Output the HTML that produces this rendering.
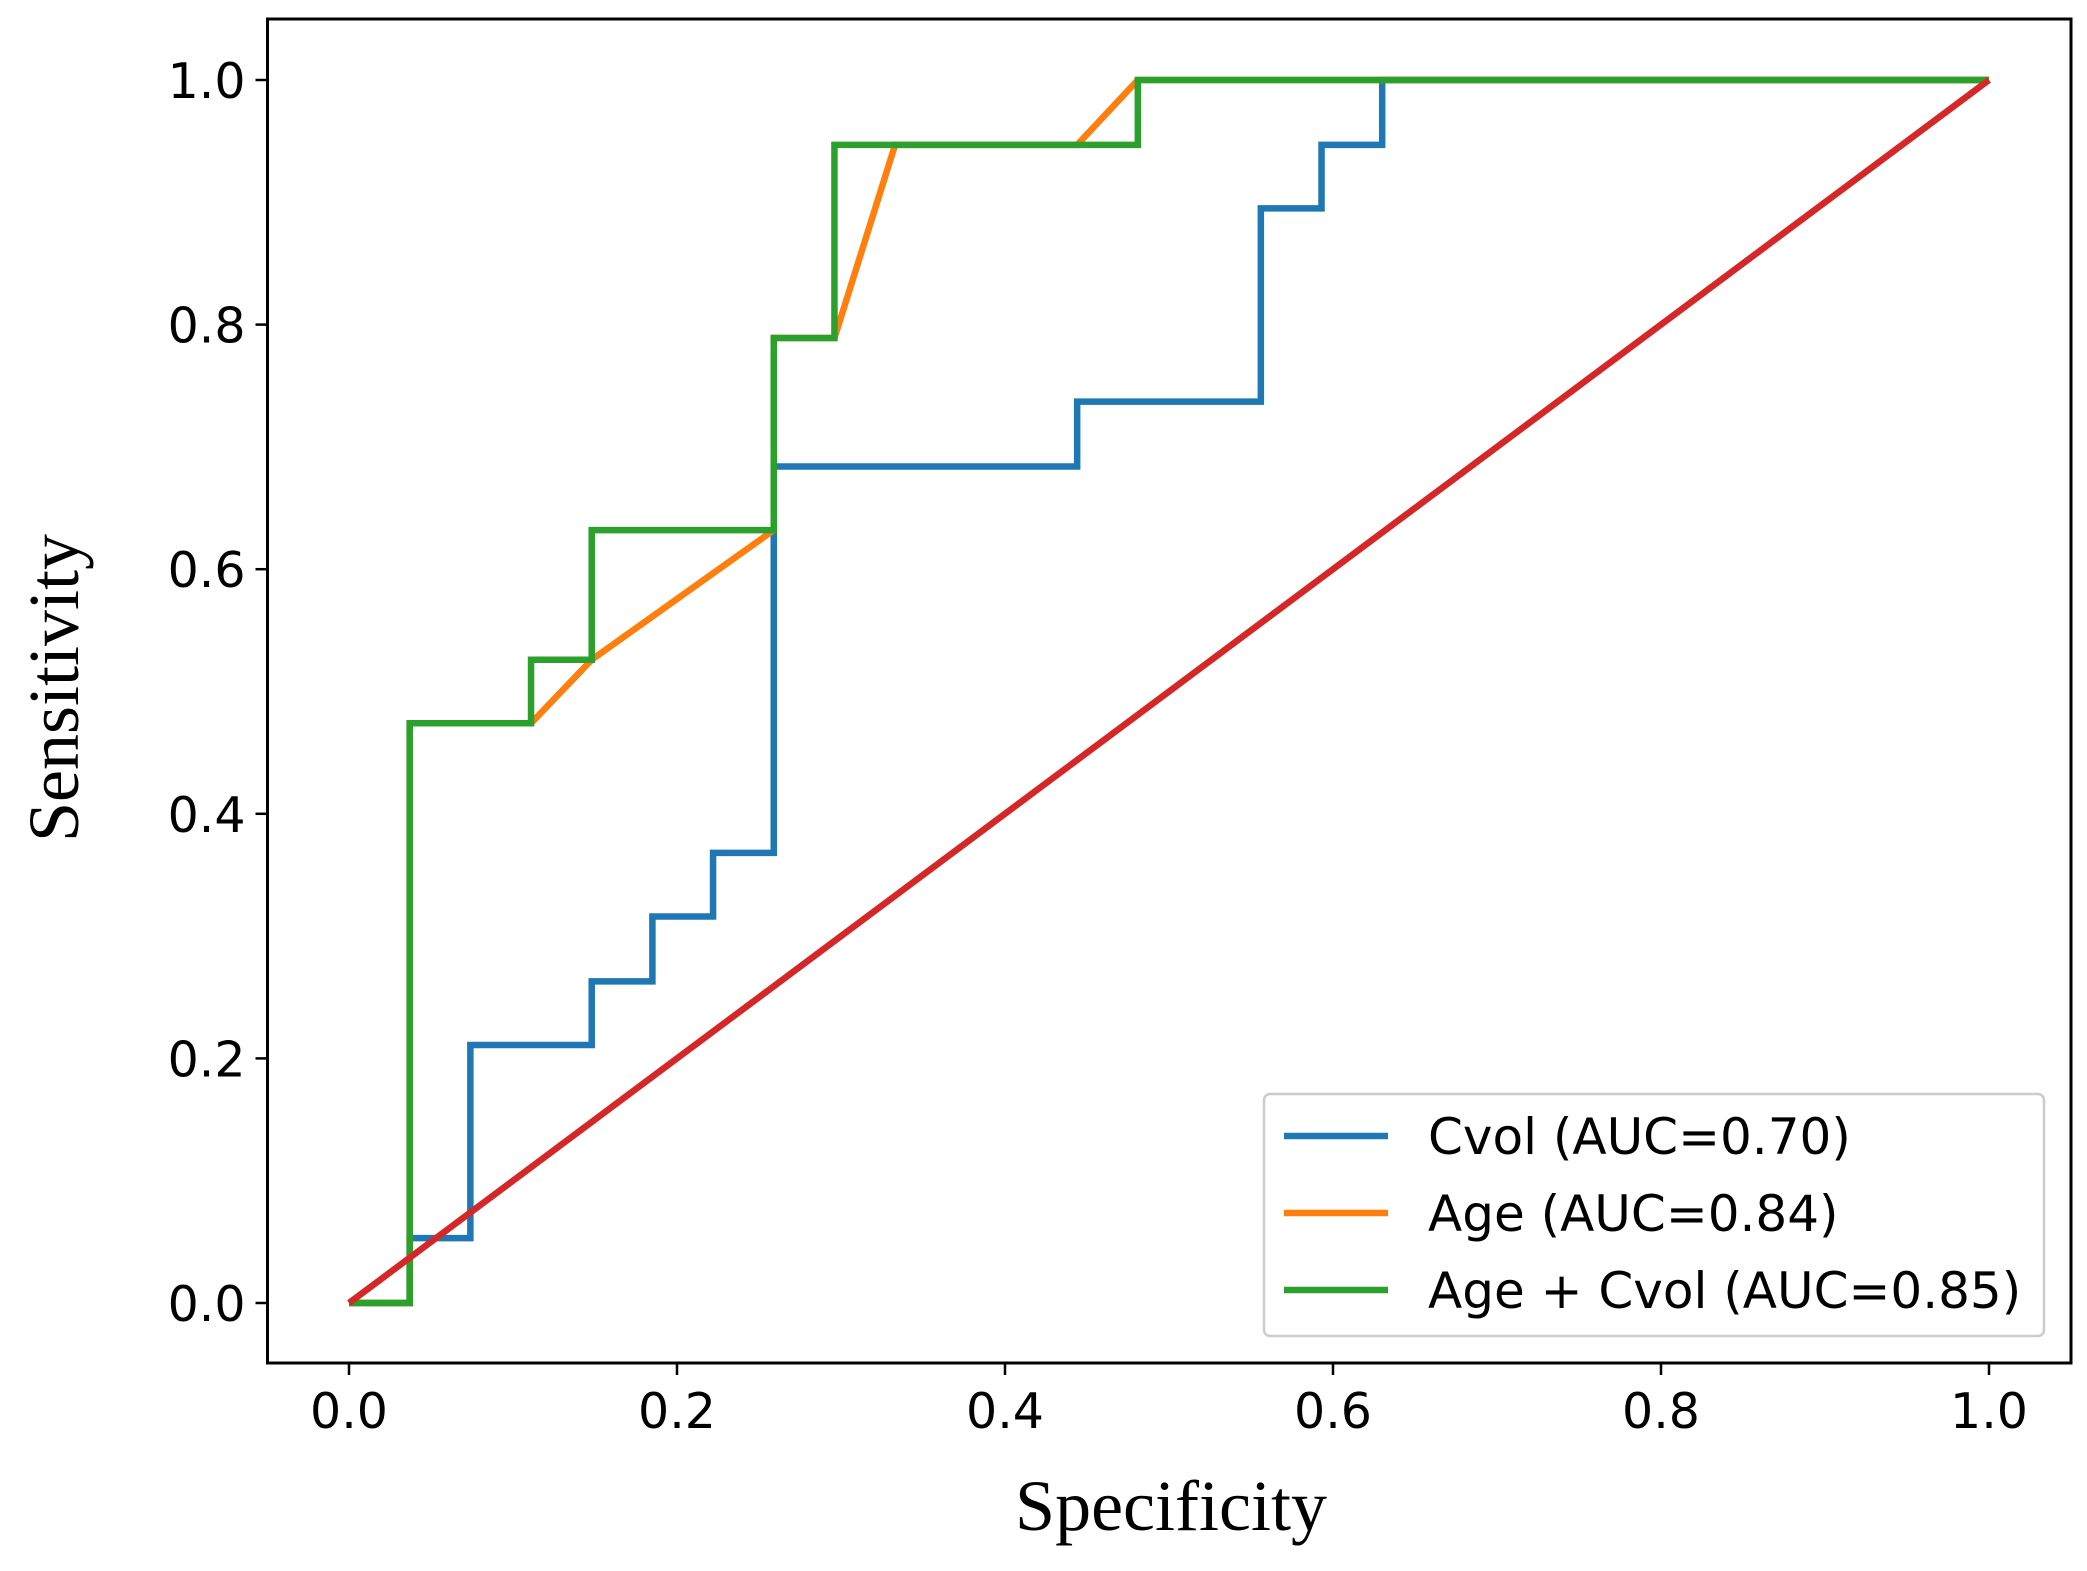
<!DOCTYPE html>
<html><head><meta charset="utf-8"><style>
html,body{margin:0;padding:0;background:#fff;}
svg text{font-family:"DejaVu Sans","Liberation Sans",sans-serif;}
</style></head><body>
<svg id="chart" width="2087" height="1566" xmlns="http://www.w3.org/2000/svg">
<rect width="2087" height="1566" fill="#fff"/>
<g id="plot"></g>
</svg>
<script>
const xTicks=[0,0.2,0.4,0.6,0.8,1.0];
const yTicks=[0,0.2,0.4,0.6,0.8,1.0];
const tickLabels=["0.0","0.2","0.4","0.6","0.8","1.0"];
const cvolX=[0,0.037,0.037,0.074,0.074,0.148,0.148,0.185,0.185,0.222,0.222,0.259,0.259,0.444,0.444,0.556,0.556,0.593,0.593,0.630,0.630,1.0];
const cvolY=[0,0,0.053,0.053,0.211,0.211,0.263,0.263,0.316,0.316,0.368,0.368,0.684,0.684,0.737,0.737,0.895,0.895,0.947,0.947,1.0,1.0];
const ageX=[0,0.037,0.037,0.111,0.148,0.259,0.259,0.296,0.333,0.444,0.481,1.0];
const ageY=[0,0,0.474,0.474,0.526,0.632,0.789,0.789,0.947,0.947,1.0,1.0];
const bothX=[0,0.037,0.037,0.111,0.111,0.148,0.148,0.259,0.259,0.296,0.296,0.481,0.481,1.0];
const bothY=[0,0,0.474,0.474,0.526,0.526,0.632,0.632,0.789,0.789,0.947,0.947,1.0,1.0];
const diagX=[0,1];
const diagY=[0,1];
const legendLabels=["Cvol (AUC=0.70)","Age (AUC=0.84)","Age + Cvol (AUC=0.85)"];
const colors=["#1f77b4","#ff7f0e","#2ca02c","#d62728"];

const NS="http://www.w3.org/2000/svg";
const g=document.getElementById('plot');
const L=267.5,R=2071,T=19,B=1363;
const X0=349,X1=1989,Y0=1303,Y1=80;
const sx=v=>X0+v*(X1-X0);
const sy=v=>Y0-v*(Y0-Y1);
function mk(tag,attrs){const e=document.createElementNS(NS,tag);for(const k in attrs)e.setAttribute(k,attrs[k]);g.appendChild(e);return e;}

xTicks.forEach((v,i)=>{
  const t=mk('line',{x1:sx(v),x2:sx(v),y1:B,y2:B+12,stroke:'#000','stroke-width':2.5});
  
  
  const l=mk('text',{x:sx(v),y:B+65,'text-anchor':'middle','font-size':49,fill:'#000'});
  l.textContent=tickLabels[i];
  
  
});
yTicks.forEach((v,i)=>{
  const t=mk('line',{x1:L-12,x2:L,y1:sy(v),y2:sy(v),stroke:'#000','stroke-width':2.5});
  
  
  const l=mk('text',{x:L-22,y:sy(v)+18,'text-anchor':'end','font-size':49,fill:'#000'});
  l.textContent=tickLabels[i];
  
  
});

function series(xs,ys,c,name){
  const p=mk('polyline',{points:xs.map((x,i)=>sx(x)+','+sy(ys[i])).join(' '),fill:'none',stroke:c,'stroke-width':6.5,'stroke-linejoin':'miter'});
  
  
}
series(cvolX,cvolY,colors[0],'cvol-roc-line');
series(ageX,ageY,colors[1],'age-roc-line');
series(bothX,bothY,colors[2],'age-cvol-roc-line');
series(diagX,diagY,colors[3],'chance-diagonal-line');

const frame=mk('rect',{x:L,y:T,width:R-L,height:B-T,fill:'none',stroke:'#000','stroke-width':3});



const lg=mk('rect',{x:1264,y:1094,width:780,height:242,rx:6,fill:'#fff','fill-opacity':0.85,stroke:'#ccc','stroke-width':2.5});


legendLabels.forEach((s,i)=>{
  const y=1136+i*77;
  const ln=mk('line',{x1:1284,x2:1388,y1:y,y2:y,stroke:colors[i],'stroke-width':6.5});
  
  
  const t=mk('text',{x:1428,y:y+18,'font-size':50,fill:'#000'});
  t.textContent=s;
  
  
});

const xt=mk('text',{x:1171,y:1530,'text-anchor':'middle','font-size':72,fill:'#000',style:'font-family:"Liberation Serif",serif'});
xt.textContent='Specificity';


const yt=mk('text',{x:0,y:0,'text-anchor':'middle','font-size':72,fill:'#000',transform:'translate(78,688) rotate(-90)',style:'font-family:"Liberation Serif",serif'});
yt.textContent='Sensitivity';


</script>
</body></html>
